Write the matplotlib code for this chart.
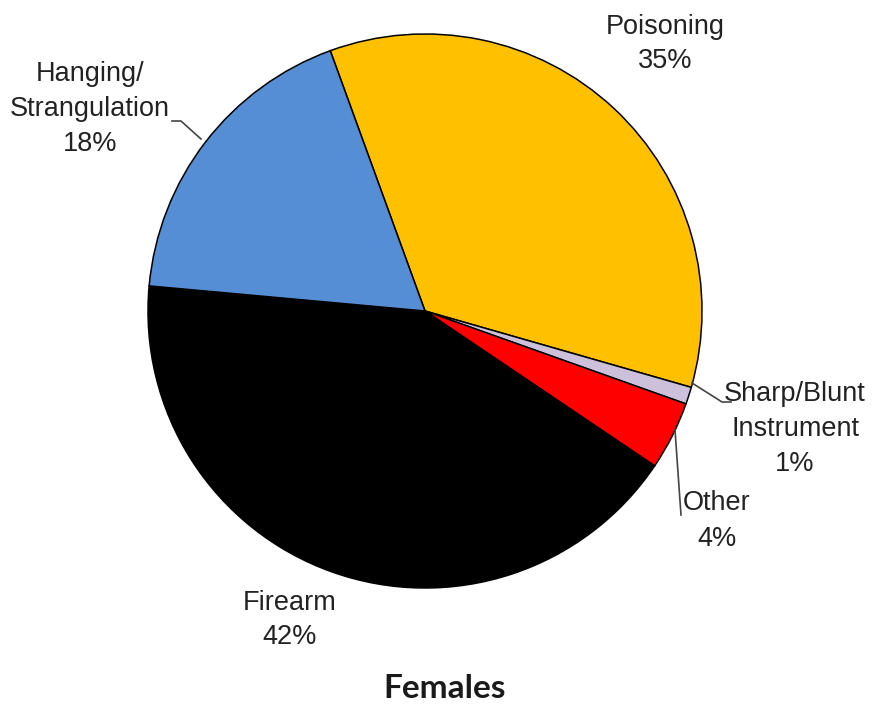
import matplotlib.pyplot as plt

labels = ['Poisoning', 'Sharp/Blunt\nInstrument', 'Other', 'Firearm', 'Hanging/\nStrangulation']
shares = [35, 1, 4, 42, 18]
colors = ['#FFC000', '#CCC0DA', '#FF0000', '#000000', '#558ED5']

W, H = 872, 708
fig = plt.figure(figsize=(W / 100, H / 100), dpi=100)
ax = fig.add_axes([0, 0, 1, 1])

cx, cy, r = 425, 311, 277
# pie drawn in a y-down frame, so angles run the other way
wedges, _ = ax.pie(shares, colors=colors, startangle=-110, counterclock=True,
                   center=(cx, cy), radius=r, frame=True,
                   wedgeprops=dict(edgecolor='black', linewidth=1.1))
ax.set_xlim(0, W)
ax.set_ylim(H, 0)
ax.set_axis_off()

lab_font = dict(family='Liberation Sans', fontsize=19.5,
                color='#222222', ha='center', va='center', linespacing=1.45)
txt_pos = [(665, 44), (795, 429), (717, 521), (290, 620), (90, 109)]
for lab, v, (tx, ty) in zip(labels, shares, txt_pos):
    ax.text(tx, ty, f'{lab}\n{v}%', **lab_font)

# leader lines
ax.plot([172, 181, 201], [121, 121, 139], color='#444444', lw=1.2)
ax.plot([692, 722, 731], [383, 402, 402], color='#444444', lw=1.2)
ax.plot([675, 681], [430, 515], color='#444444', lw=1.2)

ax.text(445, 689, 'Females', family='Lato', fontweight='bold', fontsize=24,
        color='#1a1a1a', ha='center', va='center')

fig.savefig('out.png', dpi=100)
